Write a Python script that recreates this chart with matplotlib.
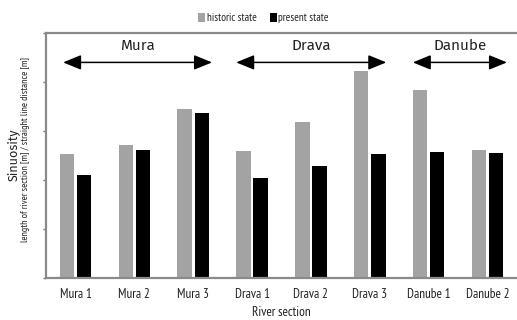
import matplotlib
matplotlib.use("Agg")
import matplotlib.pyplot as plt
import numpy as np

categories = ["Mura 1", "Mura 2", "Mura 3", "Drava 1", "Drava 2", "Drava 3", "Danube 1", "Danube 2"]
historic = [2.53, 2.71, 3.44, 2.59, 3.18, 4.23, 3.84, 2.62]
present = [2.10, 2.62, 3.37, 2.05, 2.29, 2.53, 2.58, 2.55]
groups = ["Mura", "Drava", "Danube"]
group_spans = [(-0.21, 2.32), (2.73, 5.28), (5.73, 7.33)]

plt.rcParams['font.family'] = ['PT Sans Narrow', 'DejaVu Sans']

fig = plt.figure(figsize=(5.17, 3.2), dpi=100)
ax = fig.add_axes([46/517, 1-278/320, 1-46/517, (278-33)/320])

x = np.arange(len(categories))
w = 0.245
off = 0.145
ax.bar(x - off, historic, width=w, color="#a3a3a3", label="historic state")
ax.bar(x + off, present, width=w, color="#000000", label="present state")

ax.set_xlim(-0.5, 7.5)
ax.set_ylim(0, 5)
ax.set_yticks([0, 1, 2, 3, 4, 5])
ax.set_yticklabels([])
ax.set_xticks(x)
ax.set_xticklabels(categories, fontsize=9.5, color="#222222")
ax.tick_params(axis='x', length=0, pad=7)
ax.tick_params(axis='y', length=2, width=1, color="#777777", direction='out')

for s in ["left", "top", "bottom"]:
    ax.spines[s].set_color("#8a8a8a")
    ax.spines[s].set_linewidth(1.6)
ax.spines["right"].set_visible(False)

for name, (a, b) in zip(groups, group_spans):
    ax.annotate("", xy=(a, 4.40), xytext=(b, 4.40),
                arrowprops=dict(arrowstyle="<|-|>,head_length=1.1,head_width=0.45",
                                color="black", lw=1.1, shrinkA=0, shrinkB=0))
    ax.text((a + b) / 2, 4.60, name, ha="center", va="bottom", fontsize=11,
            family=['Fira Sans', 'DejaVu Sans'], color="#222222")

ax.set_xlabel("River section", fontsize=9.5, color="#222222", labelpad=4)

fig.text(13/517, 1-155/320, "Sinuosity", rotation=90, ha="center", va="center",
         fontsize=9, family=['Fira Sans', 'DejaVu Sans'], color="#222222")
fig.text(26/517, 1-150/320, "length of river section [m] / straight line distance [m]",
         rotation=90, ha="center", va="center", fontsize=7.2, color="#222222")

leg = fig.legend(loc="center", bbox_to_anchor=(0.51, 1-18/320), ncol=2, frameon=False,
                 fontsize=8, handlelength=0.6, handleheight=0.9, handletextpad=0.15,
                 columnspacing=1.2, borderaxespad=0)
for t in leg.get_texts():
    t.set_color("#222222")

fig.savefig("out.png", dpi=100)
